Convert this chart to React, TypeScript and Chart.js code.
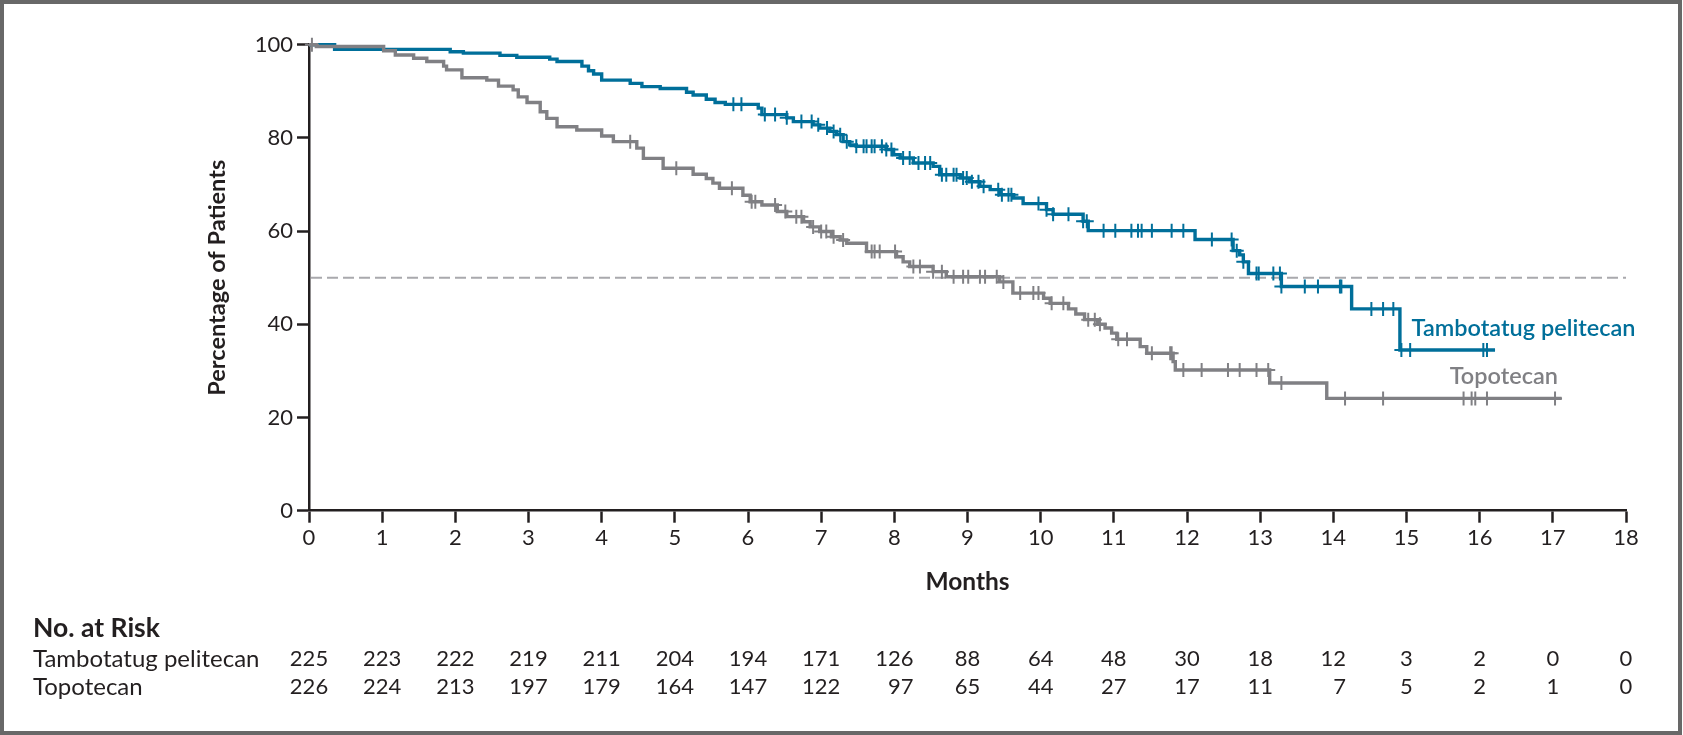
import React, { useEffect, useRef } from "react";
import { Chart, registerables } from "chart.js";

Chart.register(...registerables);

// ---------- data ----------
const tpMonths = [0, 0.35, 1.93, 2.11, 2.61, 2.84, 3.29, 3.39, 3.73, 3.82, 3.89, 4.0, 4.39, 4.55, 4.8, 5.16, 5.25, 5.43, 5.55, 5.69, 6.14, 6.19, 6.53, 6.62, 6.89, 6.98, 7.12, 7.21, 7.3, 7.39, 7.48, 7.89, 7.99, 8.08, 8.26, 8.53, 8.62, 8.9, 9.03, 9.17, 9.31, 9.44, 9.63, 9.76, 10.08, 10.17, 10.58, 10.65, 12.11, 12.63, 12.72, 12.77, 12.84, 13.29, 14.25, 14.91, 16.21];
const tpSurv = [100, 99.0, 98.5, 98.2, 97.7, 97.3, 96.9, 96.4, 95.4, 94.4, 93.7, 92.4, 91.7, 91.0, 90.6, 89.8, 89.2, 88.3, 87.6, 87.2, 86.4, 85.0, 84.3, 83.5, 82.8, 82.1, 81.4, 80.7, 79.2, 78.5, 78.2, 77.5, 76.4, 75.7, 74.6, 73.9, 72.1, 71.4, 70.6, 69.6, 68.9, 67.8, 67.1, 65.9, 64.6, 63.6, 62.1, 60.1, 58.2, 55.8, 54.9, 53.4, 50.9, 48.1, 43.3, 34.5, 34.5];
const tpCensor = [5.8, 5.91, 6.23, 6.37, 6.53, 6.73, 6.87, 6.96, 7.08, 7.17, 7.26, 7.35, 7.48, 7.58, 7.62, 7.69, 7.73, 7.83, 7.89, 7.96, 8.12, 8.21, 8.33, 8.42, 8.49, 8.65, 8.71, 8.81, 8.85, 8.94, 8.99, 9.06, 9.15, 9.22, 9.42, 9.47, 9.56, 9.6, 9.97, 10.08, 10.17, 10.38, 10.58, 10.63, 10.86, 11.02, 11.24, 11.33, 11.38, 11.52, 11.79, 11.95, 12.34, 12.61, 12.68, 12.77, 12.95, 12.98, 13.18, 13.27, 13.29, 13.61, 13.79, 14.09, 14.11, 14.52, 14.68, 14.82, 14.93, 15.05, 16.05, 16.1];

const topoMonths = [0, 0.1, 1.02, 1.18, 1.43, 1.61, 1.84, 1.88, 2.09, 2.43, 2.59, 2.79, 2.86, 2.98, 3.16, 3.25, 3.39, 3.66, 4.0, 4.16, 4.48, 4.57, 4.84, 5.25, 5.43, 5.52, 5.61, 5.93, 6.03, 6.19, 6.4, 6.53, 6.76, 6.85, 6.98, 7.14, 7.26, 7.35, 7.62, 8.03, 8.12, 8.21, 8.53, 8.71, 9.44, 9.62, 10.04, 10.13, 10.38, 10.48, 10.6, 10.78, 10.88, 10.97, 11.04, 11.36, 11.45, 11.81, 11.84, 13.13, 13.91, 17.12];
const topoSurv = [100, 99.6, 98.7, 97.8, 97.1, 96.4, 95.4, 94.6, 92.9, 92.4, 91.1, 90.3, 88.8, 87.6, 85.6, 84.2, 82.4, 81.7, 80.4, 79.2, 77.8, 75.6, 73.5, 72.2, 71.3, 70.3, 69.2, 67.7, 66.3, 65.6, 64.2, 63.1, 62.0, 60.9, 59.9, 58.8, 58.1, 57.4, 55.6, 54.5, 53.4, 52.4, 51.3, 50.2, 49.1, 46.7, 45.6, 44.5, 43.3, 42.2, 41.0, 40.0, 39.2, 38.1, 36.8, 35.2, 33.8, 32.0, 30.2, 27.4, 24.1, 24.1];
const topoCensor = [0.04, 4.39, 5.02, 5.78, 6.05, 6.1, 6.37, 6.51, 6.66, 6.73, 6.89, 7.0, 7.07, 7.17, 7.3, 7.69, 7.73, 7.8, 8.01, 8.26, 8.35, 8.53, 8.65, 8.81, 8.94, 9.01, 9.17, 9.24, 9.4, 9.49, 9.72, 9.9, 9.97, 10.15, 10.31, 10.65, 10.74, 10.81, 11.06, 11.18, 11.52, 11.77, 11.79, 11.95, 12.2, 12.56, 12.72, 12.95, 13.11, 13.29, 14.16, 14.68, 15.78, 15.89, 15.94, 16.1, 17.03];

const riskMonths = [0, 1, 2, 3, 4, 5, 6, 7, 8, 9, 10, 11, 12, 13, 14, 15, 16, 17, 18];
const riskTP = [225, 223, 222, 219, 211, 204, 194, 171, 126, 88, 64, 48, 30, 18, 12, 3, 2, 0, 0];
const riskTopo = [226, 224, 213, 197, 179, 164, 147, 122, 97, 65, 44, 27, 17, 11, 7, 5, 2, 1, 0];

const seriesNames = ["Tambotatug pelitecan", "Topotecan"];
const referenceLine = 50;

// ---------- styles ----------
const FONT = "Lato";
const TEXT = "#231f20";
const BLUE = "#006f9a";
const GRAY = "#808084";
const DASH = "#a9a9ad";
const FRAME = "#686868";

function survAt(months: number[], surv: number[], t: number) {
  let v = surv[0];
  for (let i = 0; i < months.length; i++) {
    if (months[i] <= t) v = surv[i];
  }
  return v;
}

const overlay = {
  id: "overlay",
  beforeDraw(chart: any) {
    const { ctx, width, height } = chart;
    ctx.save();
    ctx.fillStyle = "#fff";
    ctx.fillRect(0, 0, width, height);
    ctx.strokeStyle = FRAME;
    ctx.lineWidth = 4;
    ctx.strokeRect(2, 2, width - 5, height - 4);
    ctx.restore();
  },
  beforeDatasetsDraw(chart: any) {
    const { ctx, chartArea } = chart;
    const y = chart.scales.y.getPixelForValue(referenceLine);
    ctx.save();
    ctx.strokeStyle = DASH;
    ctx.lineWidth = 2;
    ctx.setLineDash([11, 5]);
    ctx.beginPath();
    ctx.moveTo(chartArea.left + 2, y);
    ctx.lineTo(chartArea.right, y);
    ctx.stroke();
    ctx.restore();
  },
  afterDraw(chart: any) {
    const { ctx, chartArea } = chart;
    const xs = chart.scales.x;
    const ys = chart.scales.y;
    ctx.save();
    ctx.textBaseline = "middle";

    // y title
    ctx.save();
    ctx.translate(217, (chartArea.top + chartArea.bottom) / 2);
    ctx.rotate(-Math.PI / 2);
    ctx.font = `bold 23.5px ${FONT}`;
    ctx.fillStyle = TEXT;
    ctx.textAlign = "center";
    ctx.fillText("Percentage of Patients", 0, 0);
    ctx.restore();

    // x title
    ctx.font = `bold 24.5px ${FONT}`;
    ctx.fillStyle = TEXT;
    ctx.textAlign = "center";
    ctx.fillText("Months", (chartArea.left + chartArea.right) / 2, 582);

    // series labels
    ctx.font = `600 23.5px ${FONT}`;
    ctx.textAlign = "left";
    ctx.fillStyle = BLUE;
    ctx.fillText(seriesNames[0], xs.getPixelForValue(15.07), ys.getPixelForValue(39.2));
    ctx.fillStyle = GRAY;
    ctx.textAlign = "center";
    ctx.fillText(seriesNames[1], xs.getPixelForValue(16.33), ys.getPixelForValue(28.9));

    // risk table
    ctx.fillStyle = TEXT;
    ctx.textAlign = "left";
    ctx.font = `bold 26.5px ${FONT}`;
    ctx.fillText("No. at Risk", 33, 628);
    ctx.font = `24px ${FONT}`;
    ctx.fillText(seriesNames[0], 33, 659);
    ctx.fillText(seriesNames[1], 33, 687);
    ctx.font = `22px ${FONT}`;
    ctx.textAlign = "right";
    riskMonths.forEach((m, i) => {
      const x = xs.getPixelForValue(m);
      const a = String(riskTP[i]);
      const b = String(riskTopo[i]);
      const w = Math.max(ctx.measureText(a).width, ctx.measureText(b).width);
      ctx.fillText(a, x + w / 2, 659);
      ctx.fillText(b, x + w / 2, 687);
    });
    ctx.restore();
  },
};

export default function App() {
  const ref = useRef<HTMLCanvasElement | null>(null);
  useEffect(() => {
    document.body.style.margin = "0";
    document.body.style.overflow = "hidden";
    const canvas = ref.current!;
    const tpLine = tpMonths.map((m, i) => ({ x: m, y: tpSurv[i] }));
    const topoLine = topoMonths.map((m, i) => ({ x: m, y: topoSurv[i] }));
    const tpCens = tpCensor.map((t) => ({ x: t, y: survAt(tpMonths, tpSurv, t) }));
    const topoCens = topoCensor.map((t) => ({ x: t, y: survAt(topoMonths, topoSurv, t) }));
    const tickFont = { family: FONT, size: 22 };
    const chart = new Chart(canvas, {
      type: "line",
      data: {
        datasets: [
          { label: seriesNames[1] + " censored", type: "scatter", data: topoCens, pointStyle: "cross", pointRadius: 7, pointBorderWidth: 2, borderColor: GRAY, backgroundColor: GRAY, showLine: false, clip: false, order: 0 } as any,
          { label: seriesNames[1], data: topoLine, stepped: true, borderColor: GRAY, borderWidth: 3.4, pointRadius: 0, fill: false, clip: false, order: 1 } as any,
          { label: seriesNames[0] + " censored", type: "scatter", data: tpCens, pointStyle: "cross", pointRadius: 7, pointBorderWidth: 2, borderColor: BLUE, backgroundColor: BLUE, showLine: false, clip: false, order: 2 } as any,
          { label: seriesNames[0], data: tpLine, stepped: true, borderColor: BLUE, borderWidth: 3.4, pointRadius: 0, fill: false, clip: false, order: 3 } as any,
        ],
      },
      options: {
        animation: false,
        responsive: false,
        devicePixelRatio: 1,
        events: [],
        layout: { padding: { top: 44.7, right: 57, bottom: 174.3, left: 0 } },
        plugins: { legend: { display: false }, tooltip: { enabled: false }, title: { display: false } },
        scales: {
          x: {
            type: "linear",
            min: 0,
            max: 18,
            afterFit(s: any) { s.height = 50; },
            ticks: { stepSize: 1, font: tickFont, color: TEXT, padding: 2, autoSkip: false, maxRotation: 0 },
            grid: { drawOnChartArea: false, drawTicks: true, tickLength: 12, tickColor: TEXT, tickWidth: 2.5 },
            border: { display: true, color: TEXT, width: 2.5 },
          },
          y: {
            type: "linear",
            min: 0,
            max: 100,
            afterFit(s: any) { s.width = 309; },
            ticks: { stepSize: 20, font: tickFont, color: TEXT, padding: 4 },
            grid: { drawOnChartArea: false, drawTicks: true, tickLength: 12, tickColor: TEXT, tickWidth: 2.5 },
            border: { display: true, color: TEXT, width: 2.5 },
          },
        },
      } as any,
      plugins: [overlay],
    });
    return () => chart.destroy();
  }, []);
  return <canvas ref={ref} width={1683} height={735} style={{ display: "block", width: 1683, height: 735 }} />;
}
